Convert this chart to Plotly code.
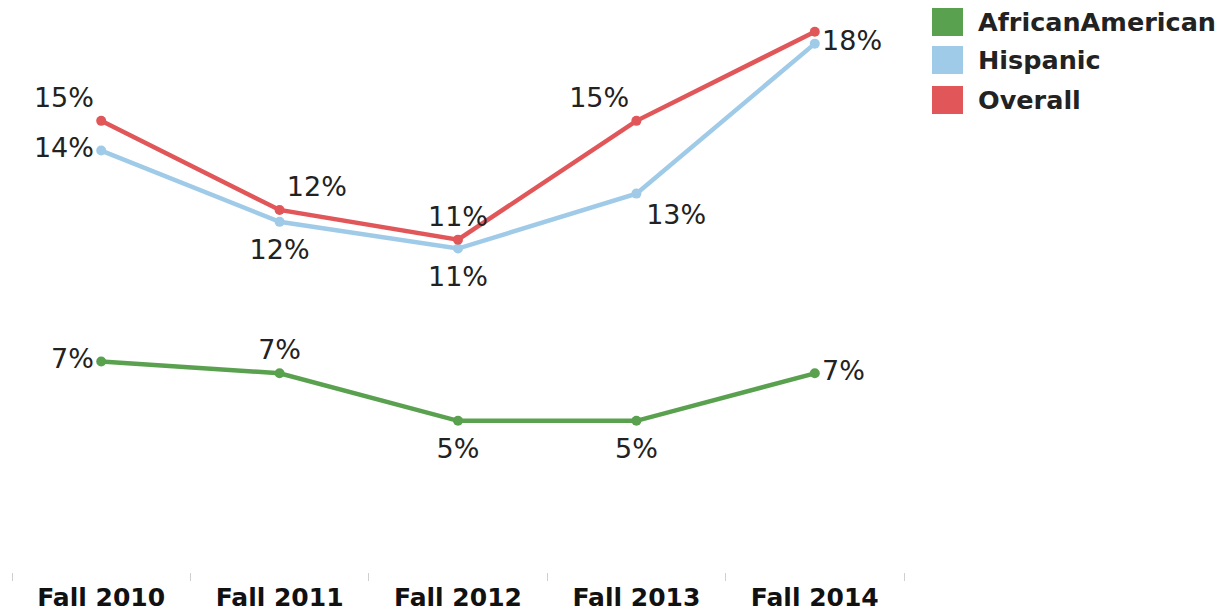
import plotly.graph_objects as go

categories = ["Fall 2010", "Fall 2011", "Fall 2012", "Fall 2013", "Fall 2014"]
african_american = [6.9, 6.5, 4.9, 4.9, 6.5]
hispanic = [14.0, 11.6, 10.7, 12.55, 17.6]
overall = [15.0, 12.0, 11.0, 15.0, 18.0]

aa_pos = ["middle left", "top center", "bottom center", "bottom center", "middle right"]
hi_pos = ["middle left", "bottom center", "bottom center", "bottom right", "middle right"]
ov_pos = ["top left", "top right", "top center", "top left", "top center"]
ov_show = [True, True, True, True, False]

colors = {"AfricanAmerican": "#59A14F", "Hispanic": "#A0CBE8", "Overall": "#E15759"}

def labels(vals, show=None):
    out = []
    for i, v in enumerate(vals):
        if show is not None and not show[i]:
            out.append("")
        else:
            out.append(f"{round(v + 1e-9):.0f}%")
    return out

def pad_sizes(pos):
    # invisible marker size controls the label offset from the point
    out = []
    for p in pos:
        if p == "bottom center":
            out.append(26)
        elif p == "bottom right":
            out.append(14)
        else:
            out.append(10)
    return out

L, R, T, B = 4, 328, 0, 49
W, H = 1224 - L - R, 613 - T - B

fig = go.Figure()
lab_font = dict(family="DejaVu Sans", size=27, color="#222")
series = [("AfricanAmerican", african_american, aa_pos, None),
          ("Hispanic", hispanic, hi_pos, None),
          ("Overall", overall, ov_pos, ov_show)]
for name, vals, pos, show in series:
    fig.add_trace(go.Scatter(
        x=categories, y=vals, mode="lines+markers", name=name,
        line=dict(color=colors[name], width=4.5),
        marker=dict(color=colors[name], size=10),
        showlegend=False, cliponaxis=False, hoverinfo="skip",
    ))
for name, vals, pos, show in series:
    fig.add_trace(go.Scatter(
        x=categories, y=vals, mode="markers+text", name=name + " labels",
        marker=dict(size=pad_sizes(pos), opacity=0),
        text=labels(vals, show), textposition=pos, textfont=lab_font,
        showlegend=False, cliponaxis=False, hoverinfo="skip",
    ))

# legend drawn manually (figure pixel coords -> paper)
def px(fx):
    return (fx - L) / W

def py(fy):
    return 1 - (fy - T) / H

legend_items = ["AfricanAmerican", "Hispanic", "Overall"]
legend_tops = [0, 38, 78]
for name, y0 in zip(legend_items, legend_tops):
    fig.add_shape(type="rect", xref="paper", yref="paper",
                  x0=px(924), x1=px(955), y0=py(y0 + 28), y1=py(y0),
                  fillcolor=colors[name], line=dict(width=0))
    fig.add_annotation(xref="paper", yref="paper", x=px(968), y=py(y0 + 14),
                       text=name, showarrow=False, xanchor="left", yanchor="middle",
                       font=dict(family="DejaVu Sans", size=25.5, color="#222", weight="bold"))

fig.update_layout(
    width=1224, height=613,
    margin=dict(l=L, r=R, t=T, b=B),
    paper_bgcolor="white", plot_bgcolor="white",
    showlegend=False,
)
fig.update_xaxes(type="category", tickson="boundaries", ticks="outside", ticklen=8,
                 tickcolor="#d0d0d0", tickwidth=1, showgrid=False, showline=False, zeroline=False,
                 tickfont=dict(family="DejaVu Sans", size=25, color="#111", weight="bold"),
                 ticklabelstandoff=8,
                 range=[-0.5, 4.5])
fig.update_yaxes(visible=False, range=[-0.19, 18.80])

fig.write_html("out.html")
